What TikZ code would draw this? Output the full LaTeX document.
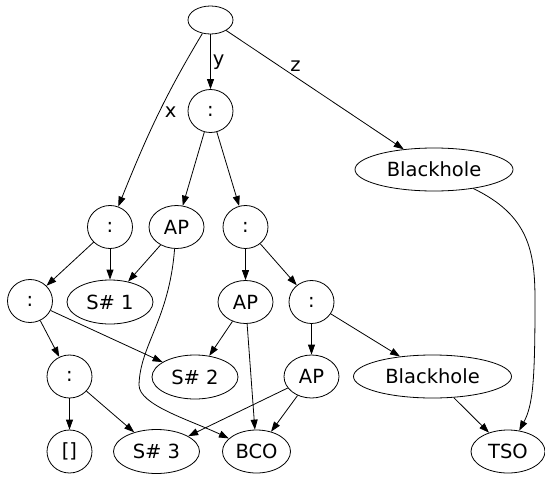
\documentclass[tikz,border=0pt]{standalone}
\usepackage{fontspec}
\setmainfont{DejaVu Sans}
\usetikzlibrary{shapes.geometric,arrows.meta}

\tikzset{
    heapobj/.style={draw, ellipse, inner sep=0pt, line width=0.8pt, minimum width=45pt, minimum height=43pt},
    wideobj/.style={heapobj, minimum width=55pt},
    srtobj/.style={heapobj, minimum width=86pt, minimum height=44pt},
    bhobj/.style={heapobj, minimum width=158pt},
    ptr/.style={->, line width=0.8pt}
}

\begin{document}
\begin{tikzpicture}[x=1pt, y=-1pt, >={Triangle[length=10pt, width=7pt]}, font=\fontsize{19.5}{23}\selectfont]
        \useasboundingbox (0, 0) rectangle (545, 476);

        % Roots
        \node[heapobj, minimum height=28pt] (root) at (210.5, 20) {};
        \node[heapobj] (c1) at (210.5, 111) {:};
        \node[bhobj] (bh1) at (434, 169.5) {Blackhole};

        % Third row
        \node[heapobj] (cA) at (110, 227) {:};
        \node[wideobj] (ap1) at (176.5, 227) {AP};
        \node[heapobj] (cB) at (245.5, 227) {:};

        % Fourth row
        \node[heapobj] (cL) at (30, 301) {:};
        \node[srtobj] (s1) at (110, 302) {S\# 1};
        \node[wideobj] (ap2) at (245.5, 302) {AP};
        \node[heapobj] (cC) at (311.5, 302) {:};

        % Fifth row
        \node[heapobj] (cD) at (69.5, 376.5) {:};
        \node[srtobj] (s2) at (195, 377) {S\# 2};
        \node[wideobj] (ap3) at (311.5, 376.5) {AP};
        \node[bhobj] (bh2) at (432.5, 376.5) {Blackhole};

        % Bottom row
        \node[heapobj] (nil) at (69.5, 451.5) {[]};
        \node[srtobj] (s3) at (156.5, 451.5) {S\# 3};
        \node[heapobj, minimum width=68pt] (bco) at (256.5, 451.5) {BCO};
        \node[heapobj, minimum width=74pt] (tso) at (508, 451.5) {TSO};

        % Pointers from the root
        \draw[ptr] (root) -- node[right, inner sep=2pt] {y} (c1);
        \draw[ptr] (root) to[out=-121, in=68] node[pos=0.46, right, inner sep=5pt] {x} (cA);
        \draw[ptr] (root) -- node[pos=0.39, above, inner sep=5pt] {z} (bh1);

        % Pointers between heap objects
        \draw[ptr] (c1) -- (ap1);
        \draw[ptr] (c1) -- (cB);
        \draw[ptr] (cA) -- (cL);
        \draw[ptr] (cA) -- (s1);
        \draw[ptr] (ap1) -- (s1);
        \draw[ptr] (ap1.-95) .. controls (169, 320) and (140, 345) .. (139, 385)
            .. controls (139, 405) and (190, 420) .. (bco);
        \draw[ptr] (cB) -- (ap2);
        \draw[ptr] (cB) -- (cC);
        \draw[ptr] (bh1) .. controls (528, 215) and (535, 250) .. (535, 300)
            .. controls (535, 380) and (533, 405) .. (tso);
        \draw[ptr] (cL) -- (cD);
        \draw[ptr] (cL) -- (s2);
        \draw[ptr] (ap2) -- (s2);
        \draw[ptr] (ap2) -- (bco);
        \draw[ptr] (cC) -- (ap3);
        \draw[ptr] (cC) -- (bh2);
        \draw[ptr] (cD) -- (nil);
        \draw[ptr] (cD) -- (s3);
        \draw[ptr] (ap3) -- (s3);
        \draw[ptr] (ap3) -- (bco);
        \draw[ptr] (bh2) -- (tso);
    \end{tikzpicture}
\end{document}
